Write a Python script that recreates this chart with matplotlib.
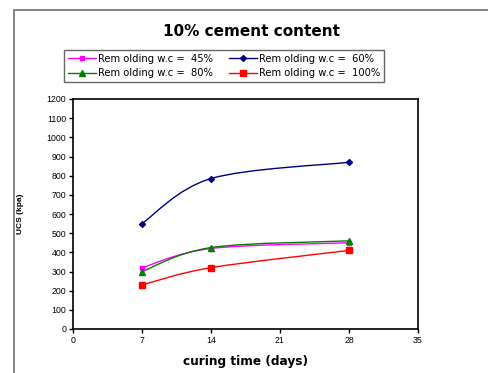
import matplotlib.pyplot as plt
from matplotlib.path import Path
from matplotlib.patches import PathPatch, Rectangle
from matplotlib.lines import Line2D

plt.rcParams['font.family'] = ['Liberation Sans', 'DejaVu Sans']

days = [7, 14, 28]
wc_45 = [320, 420, 450]
wc_60 = [550, 785, 870]
wc_80 = [300, 425, 460]
wc_100 = [230, 320, 410]

labels = ['Rem olding w.c =  45%', 'Rem olding w.c =  60%',
          'Rem olding w.c =  80%', 'Rem olding w.c =  100%']
series = [wc_45, wc_60, wc_80, wc_100]
colors = ['#ff00ff', '#000080', '#008000', '#ff0000']
markers = ['s', 'D', '^', 's']
msizes = [3.5, 3, 4.5, 4]


def smooth_path(xs, ys):
    # Excel-like smoothed line: cubic bezier segments through the points
    pts = list(zip(xs, ys))
    verts = [pts[0]]
    codes = [Path.MOVETO]
    n = len(pts)
    for i in range(n - 1):
        p0 = pts[i - 1] if i > 0 else pts[i]
        p1 = pts[i]
        p2 = pts[i + 1]
        p3 = pts[i + 2] if i + 2 < n else pts[i + 1]
        c1 = (p1[0] + (p2[0] - p0[0]) / 6, p1[1] + (p2[1] - p0[1]) / 6)
        c2 = (p2[0] - (p3[0] - p1[0]) / 6, p2[1] - (p3[1] - p1[1]) / 6)
        verts += [c1, c2, p2]
        codes += [Path.CURVE4] * 3
    return Path(verts, codes)


fig = plt.figure(figsize=(4.88, 3.73), dpi=100)
fig.patches.append(Rectangle((14 / 488, -0.1), 1.0, 1 - 10 / 373 + 0.1,
                             transform=fig.transFigure, fill=False,
                             edgecolor='#707070', linewidth=1.2))

ax = fig.add_axes([73 / 488, 1 - 329 / 373, 345 / 488, 230 / 373])

for ys, c, m, ms in zip(series, colors, markers, msizes):
    ax.add_patch(PathPatch(smooth_path(days, ys), fill=False, edgecolor=c,
                           linewidth=1.0))
    ax.plot(days, ys, linestyle='none', marker=m, color=c, markersize=ms)

ax.set_xlim(0, 35)
ax.set_ylim(0, 1200)
ax.set_xticks(range(0, 36, 7))
ax.set_yticks(range(0, 1201, 100))
ax.tick_params(labelsize=6.3, length=3, width=1, pad=2)
for s in ax.spines.values():
    s.set_linewidth(1.2)

ax.set_xlabel('curing time (days)', fontsize=8.7, fontweight='bold',
              fontfamily='DejaVu Sans', labelpad=7)
ax.set_ylabel('UCS (kpa)', fontsize=6, fontweight='bold', labelpad=16)

fig.text(251 / 488, 1 - 31 / 373, '10% cement content', ha='center',
         va='center', fontsize=11, fontweight='bold',
         fontfamily='DejaVu Sans')

# legend fills column-wise, reorder so rows read 45/60 then 80/100
order = [0, 2, 1, 3]
handles = [Line2D([0], [0], color=colors[i], marker=markers[i],
                  markersize=msizes[i], linewidth=1) for i in order]
leg = fig.legend(handles, [labels[i] for i in order], ncol=2, loc='center',
                 bbox_to_anchor=(224 / 488, 1 - 66 / 373), fontsize=7.2,
                 frameon=True, fancybox=False, edgecolor='#404040',
                 handlelength=2.8, handletextpad=0.2, columnspacing=1.6,
                 labelspacing=0.45, borderpad=0.35,
                 prop={'family': 'DejaVu Sans', 'size': 7.2})
leg.get_frame().set_linewidth(1.0)

fig.savefig('out.png', dpi=100)
